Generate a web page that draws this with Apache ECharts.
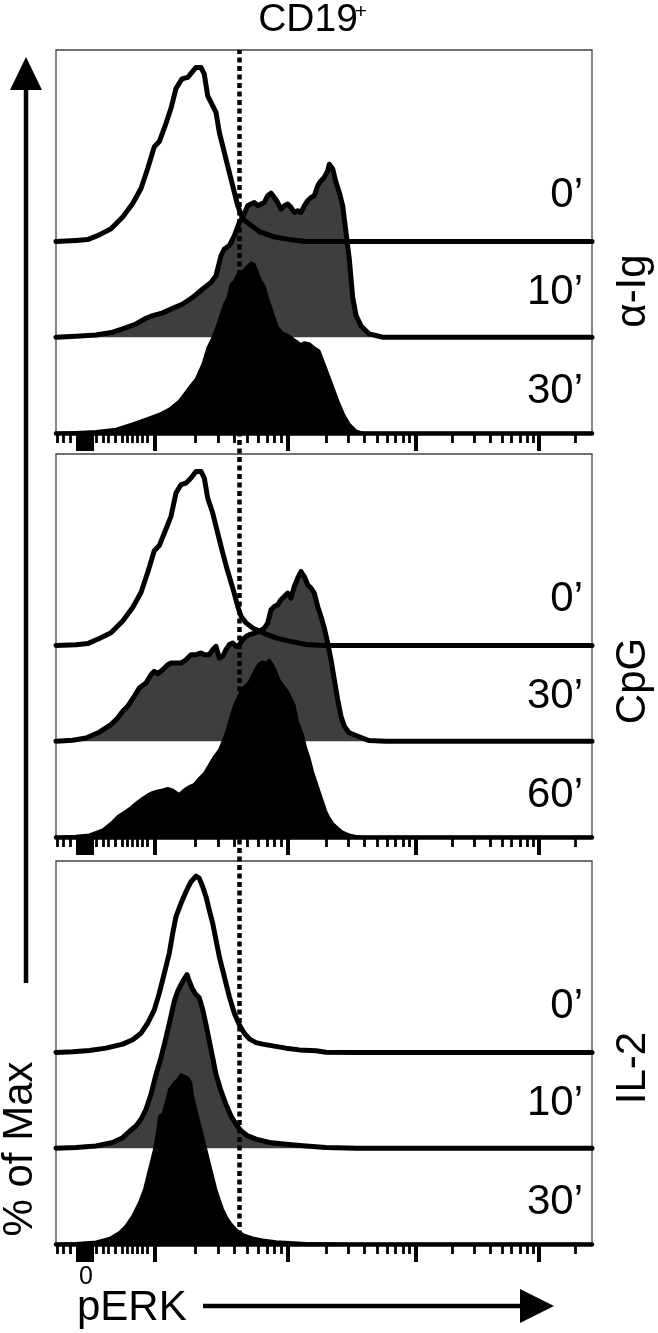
<!DOCTYPE html>
<html><head><meta charset="utf-8">
<script src="https://cdn.jsdelivr.net/npm/echarts@6/dist/echarts.min.js"></script>
<style>html,body{margin:0;padding:0;background:#fff}#c{width:658px;height:1333px}</style>
</head><body><div id="c"></div>
<script>
// x: position on the biexponential pERK display scale (0 = left edge, 536 = right edge)
// y: % of Max
const aIg0 = [[0,0],[20,0.6],[31.7,1.1],[43.3,3.8],[55,7.3],[66.7,14.1],[76.7,21.8],[85,30.4],[91.7,41.9],[98.3,54.4],[103.3,57.4],[110,67.9],[115,76.5],[120,88],[126,93.4],[131.7,94.3],[136.7,97.7],[140,100],[145,100],[148.3,96.2],[151.7,83.7],[155,79.9],[160,74.2],[163.3,62.7],[168.3,51.2],[173.3,39.7],[178.3,28.3],[181.7,20.6],[186.7,13],[193.3,10],[203.3,5.7],[216.7,2.9],[233.3,1.1],[250,0],[536,0]];
const aIg10 = [[0,0],[20,0.6],[40,1.3],[56.7,2.9],[66.7,4.8],[80,7.6],[90,10.9],[96.7,12.4],[106.7,14],[116.7,16.6],[126.7,19.1],[136.7,22.9],[146.7,27.7],[155,31.5],[160,35.4],[165,46.8],[168.3,50.7],[173.3,52.6],[178.3,58.3],[183.3,66],[186.7,68.8],[191.7,75.5],[195,76.5],[198.3,77.4],[201.7,75.5],[205,76.5],[208.3,77.4],[211.7,81.3],[215,82.8],[218.3,80.3],[221.7,77.4],[225,73.6],[228.3,75.5],[231.7,76.5],[235,74.6],[238.3,71.7],[241.7,72.7],[245,71.7],[248.3,75.5],[251.7,78.4],[255,80.3],[258.3,81.3],[261.7,87],[265,89.9],[268.3,91.8],[271.7,95.6],[273.3,99.4],[276.7,96.7],[280,89],[283.3,83.2],[286.7,75.5],[290,60.2],[293.3,44.9],[296.7,22.9],[300,12.6],[305,6.5],[313.3,1.9],[326.7,0],[536,0]];
const aIg30 = [[0,0],[20,0.4],[40,1],[60,2.3],[73.3,4.8],[90,8.1],[103.3,10.9],[113.3,13.8],[123.3,18.5],[133.3,26.2],[140,31],[146.7,39.6],[151.7,49.1],[156.7,54.8],[161.7,62.5],[165,68.3],[168.3,74],[171.7,77.8],[175,85.5],[178.3,87.4],[181.7,91.2],[186.7,93.1],[191.7,96],[195,97.9],[198.3,97],[201.7,92.2],[205,87.4],[208.3,84.5],[211.7,77.8],[215,72.1],[218.3,66.3],[221.7,60.6],[226.7,57.7],[233.3,55.8],[240,52.9],[245,51],[248.3,52],[253.3,51.4],[258.3,49.1],[263.3,47.2],[268.3,39.6],[273.3,32],[278.3,24.3],[283.3,16.6],[288.3,10.1],[293.3,5.2],[300,1.3],[306.7,0],[536,0]];
const cpg0 = [[0,0],[20,0.4],[31.7,1.1],[43.3,4.0],[55,7.3],[66.7,14.1],[76.7,21.8],[85,30.4],[91.7,41.9],[98.3,54.4],[103.3,57.4],[110,66.9],[115,74.2],[120,87.6],[125,92.4],[130,93.3],[135,96.2],[140,100],[145,100],[148.3,96.2],[151.7,84.7],[156.7,76.1],[161.7,64.6],[166.7,53.2],[171.7,42.6],[176.7,33.1],[181.7,22.6],[185,16.8],[190,13],[196.7,10],[206.7,7.3],[220,4.4],[233.3,2.5],[250,0.6],[266.7,0],[536,0]];
const cpg30 = [[0,0],[16.7,0.6],[30,1.9],[43.3,5.2],[55,9.6],[61.7,13.4],[66.7,17.2],[71.7,20.1],[78.3,25.8],[83.3,30.6],[90,33.5],[95,38.2],[98.3,40.2],[101.7,38.8],[106.7,41.1],[111.7,44],[115,44.9],[120,44.9],[125,44.9],[130,46.8],[135,49.7],[140,49.7],[145,50.7],[148.3,49.7],[153.3,49.7],[156.7,52.6],[160,54.5],[163.3,47.8],[166.7,48.8],[170,52.6],[173.3,55.5],[176.7,56.4],[180,54.5],[183.3,55.5],[186.7,58.3],[190,60.2],[193.3,61.2],[198.3,62.1],[203.3,63.1],[208.3,65],[211.7,67.9],[215,75.5],[218.3,77.4],[221.7,78.4],[225,81.3],[228.3,83.2],[231.7,85.1],[235,82.2],[238.3,88.9],[241.7,93.7],[245,97.5],[248.3,94.6],[251.7,89.9],[255,87.9],[258.3,85.1],[261.7,77.4],[265,71.7],[268.3,65],[271.7,56.4],[275,46.8],[278.3,35.4],[281.7,23.9],[285,14.3],[288.3,8.6],[293.3,4.8],[300,3.3],[313,0.4],[330,0],[536,0]];
const cpg60 = [[0,0],[20,0.6],[33.3,1.3],[46.7,4.2],[55,8],[61.7,11.9],[66.7,13.8],[73.3,16.3],[80,19.5],[86.7,22.4],[91.7,24.3],[96.7,25.8],[101.7,26.6],[106.7,27.2],[111.7,28.1],[116.7,27.2],[120,25.8],[123.3,24.7],[128.3,27.2],[133.3,29.1],[138.3,30.4],[143.3,33.8],[148.3,36.7],[153.3,41.5],[158.3,46.3],[163.3,50.1],[166.7,54.8],[170,59.7],[173.3,66.3],[176.7,73],[180,77.8],[183.3,81.6],[186.7,85.5],[190,87.4],[193.3,89.3],[196.7,93.1],[200,96.9],[203.3,99.8],[206.7,100.8],[210,99.8],[213.3,101.7],[216.7,98.9],[220,95],[223.3,90.2],[226.7,87.4],[231.7,83.6],[235,79.7],[238.3,75.9],[241.7,66.3],[246.7,58.7],[250,51],[253.3,45.3],[256.7,37.7],[260,32],[263.3,26.2],[266.7,20.5],[270,14.7],[273.3,10.9],[276.7,8],[281.7,5.2],[286.7,2.9],[293.3,1.3],[300,0.4],[306.7,0],[536,0]];
const il2_0 = [[0,0],[16.7,0.4],[33.3,1.1],[50,2.5],[66.7,4.8],[76.7,7.3],[85,11.1],[91.7,16.8],[98.3,24.5],[103.3,34.1],[108.3,45.5],[113.3,57],[116.7,68.5],[120,78.1],[125,85.7],[130,92.4],[135,98.1],[140,101.3],[143.3,100],[146.7,95.2],[150,89.5],[153.3,81.8],[156.7,74.2],[160,64.6],[163.3,55.1],[168.3,43.6],[173.3,32.1],[178.3,22.6],[183.3,15.9],[188.3,11.1],[193.3,7.8],[200,5.7],[206.7,4.8],[216.7,3.8],[230,2.5],[243.3,1.5],[260,1],[270,0.2],[300,0],[536,0]];
const il2_10 = [[0,0],[20,0.4],[40,1.3],[56.7,3.3],[66.7,6.1],[73.3,9.6],[80,12.8],[85,16.6],[90,22.4],[95,31],[100,42.4],[105,52],[110,63.5],[115,75.9],[118.3,84.5],[121.7,90.2],[126.7,95.9],[131,99.8],[133.3,95.9],[136.7,91.2],[140,88.3],[143.3,86.4],[146.7,79.7],[150,71.1],[153.3,61.6],[156.7,52],[160,42.4],[165,32.9],[170,25.2],[175,18.5],[180,13.8],[185,10],[191.7,7.1],[200,5.2],[213.3,3.3],[230,2.3],[250,1.3],[270,0.4],[300,0],[536,0]];
const il2_30 = [[0,0],[20,0.4],[40,1.3],[53.3,3.3],[63.3,6.7],[70,10.5],[76.7,16.3],[83.3,23.9],[88.3,31.5],[93.3,43],[98.3,54.5],[101.7,65.9],[103.3,73.6],[106.7,74.6],[110,81.3],[113.3,88.9],[115,89.9],[118.3,92.8],[121.7,94.6],[125,97.5],[128.3,96.6],[131.7,95.6],[135,92.8],[136.7,85.1],[140,77.4],[143.3,69.8],[146.7,62.1],[150,54.5],[153.3,46.8],[156.7,39.2],[160,31.5],[163.3,25.8],[166.7,20.1],[171.7,14.3],[176.7,10.5],[181.7,7.6],[188.3,5.2],[196.7,3.6],[206.7,2.5],[220,1.5],[233.3,1],[250,0.4],[300,0],[536,0]];

const panelNames = ['α-Ig', 'CpG', 'IL-2'];
const rowLabels = [['0’', '10’', '30’'], ['0’', '30’', '60’'], ['0’', '10’', '30’']];
const panelSeries = [[aIg0, aIg10, aIg30], [cpg0, cpg30, cpg60], [il2_0, il2_10, il2_30]];

// tick positions on the display scale
const zeroBlockTicks = [22, 24, 26, 28, 30, 32, 34, 36];
const majorTicks = [99, 231.5, 359.5, 483];
const minorTicks = [1, 7, 14, 40, 47, 52, 59, 66, 71, 76, 81, 86, 91,
  139, 162, 178.5, 191.5, 202, 211, 218.5, 225.5,
  270, 292.5, 308.5, 321, 331, 339.5, 347, 353.5,
  396.5, 418.5, 434, 446, 455.5, 464, 471, 477, 519];
const zeroLabelPos = [30];
const zeroLabelText = '0';
const thresholdX = 183.5;

const X_MAX = 536;
const Y_MAX = 220;
const ROW_OFFSETS = [110, 55, 0];
const FONT = '"Liberation Sans", Arial, Helvetica, sans-serif';

const LEFT = 56, WIDTH = 536, H = 383;
const TOPS = [50, 454, 861];

const grid = [], xAxis = [], yAxis = [], series = [], graphic = [];

TOPS.forEach((top, i) => {
  grid.push({left: LEFT, top: top, width: WIDTH, height: H, show: true, borderColor: '#444', borderWidth: 1.3, backgroundColor: 'transparent'});
  xAxis.push({
    gridIndex: i, type: 'value', min: 0, max: X_MAX, position: 'bottom',
    axisLine: {show: true, onZero: false, lineStyle: {color: '#000', width: 4.5}},
    axisTick: {show: true, customValues: zeroBlockTicks.concat(majorTicks), length: 18, lineStyle: {color: '#000', width: 4}},
    axisLabel: {show: i === 2, customValues: zeroLabelPos, formatter: () => zeroLabelText, fontSize: 25, fontFamily: FONT, color: '#000', margin: 21},
    splitLine: {show: false}
  });
  xAxis.push({
    gridIndex: i, type: 'value', min: 0, max: X_MAX, position: 'bottom',
    axisLine: {show: false, onZero: false},
    axisTick: {show: true, customValues: minorTicks, length: 10, lineStyle: {color: '#000', width: 2.8}},
    axisLabel: {show: false},
    splitLine: {show: false}
  });
  yAxis.push({gridIndex: i, type: 'value', min: 0, max: Y_MAX, show: false, splitLine: {show: false}});

  const curves = panelSeries[i];
  const mk = (r, fill, lw) => {
    const off = ROW_OFFSETS[r];
    const s = {
      type: 'line', xAxisIndex: 2 * i, yAxisIndex: i, showSymbol: false, symbol: 'none', silent: true,
      animation: false,
      data: curves[r].map(p => [p[0], p[1] + off]),
      lineStyle: {color: '#000', width: lw, join: 'round', cap: 'round'},
      emphasis: {disabled: true},
      z: 2 + r
    };
    if (fill) s.areaStyle = {origin: off, color: fill, opacity: 1};
    return s;
  };
  series.push(mk(1, '#3e3e3e', 5));
  series.push(mk(2, '#000', 2.5));
  const s0 = mk(0, null, 5); s0.z = 6;
  series.push(s0);

  // row labels
  const dy = [46, 45, 42];
  ROW_OFFSETS.forEach((off, r) => {
    const yb = top + H * (1 - off / Y_MAX);
    graphic.push({type: 'text', x: 583, y: yb - dy[r], z: 10,
      style: {text: rowLabels[i][r], font: '42px ' + FONT, fill: '#000', align: 'right', verticalAlign: 'middle', textAlign: 'right', textVerticalAlign: 'middle'}});
  });
});

// overlay grid for dashed threshold line
grid.push({left: LEFT, top: TOPS[0], width: WIDTH, height: TOPS[2] + H - TOPS[0], show: false});
xAxis.push({gridIndex: 3, type: 'value', min: 0, max: X_MAX, show: false});
yAxis.push({gridIndex: 3, type: 'value', min: 0, max: 1, show: false});
series.push({type: 'line', xAxisIndex: 6, yAxisIndex: 3, showSymbol: false, symbol: 'none', silent: true, animation: false,
  emphasis: {disabled: true},
  data: [[thresholdX, 0], [thresholdX, 1]], lineStyle: {color: '#000', width: 4.5, type: [5, 3.5]}, z: 20});

const sideY = [291, 681, 1068];
panelNames.forEach((n, i) => {
  graphic.push({type: 'text', x: 633, y: sideY[i], rotation: Math.PI / 2, z: 10,
    style: {text: n, font: '42px ' + FONT, fill: '#000', align: 'center', verticalAlign: 'middle', textAlign: 'center', textVerticalAlign: 'middle'}});
});

graphic.push(
  {type: 'text', x: 308, y: 20, z: 10, style: {text: 'CD19', font: '39px ' + FONT, fill: '#000', align: 'center', verticalAlign: 'middle', textAlign: 'center', textVerticalAlign: 'middle'}},
  {type: 'text', x: 361, y: 12, z: 10, style: {text: '+', font: '21px ' + FONT, fill: '#000', align: 'center', verticalAlign: 'middle', textAlign: 'center', textVerticalAlign: 'middle'}},
  {type: 'line', z: 10, shape: {x1: 26, y1: 84, x2: 26, y2: 983}, style: {stroke: '#000', lineWidth: 4.5}},
  {type: 'polygon', z: 10, shape: {points: [[26, 57], [10, 90], [42, 90]]}, style: {fill: '#000'}},
  {type: 'text', x: 20, y: 1149, rotation: Math.PI / 2, z: 10, style: {text: '% of Max', font: '42px ' + FONT, fill: '#000', align: 'center', verticalAlign: 'middle', textAlign: 'center', textVerticalAlign: 'middle'}},
  {type: 'text', x: 77, y: 1308, z: 10, style: {text: 'pERK', font: '42px ' + FONT, fill: '#000', align: 'left', verticalAlign: 'middle', textAlign: 'left', textVerticalAlign: 'middle'}},
  {type: 'line', z: 10, shape: {x1: 203, y1: 1306, x2: 525, y2: 1306}, style: {stroke: '#000', lineWidth: 4.5}},
  {type: 'polygon', z: 10, shape: {points: [[520, 1289], [554, 1306], [520, 1323]]}, style: {fill: '#000'}}
);

const chart = echarts.init(document.getElementById('c'), null, {renderer: 'canvas'});
chart.setOption({animation: false, backgroundColor: '#fff', grid, xAxis, yAxis, series, graphic});
</script>
</body></html>
